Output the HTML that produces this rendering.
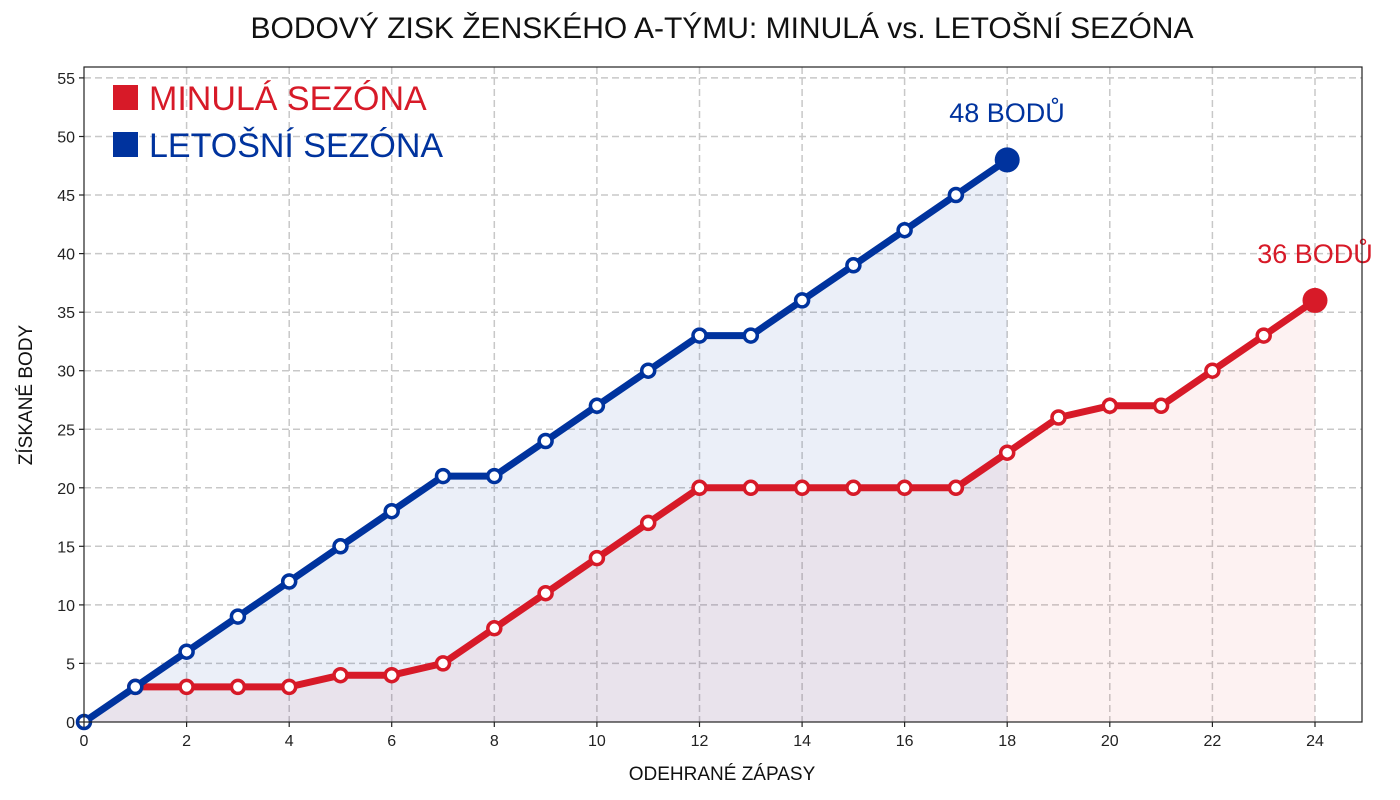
<!DOCTYPE html>
<html><head><meta charset="utf-8"><style>
body{margin:0;background:#fff;}
svg{display:block;font-family:"Liberation Sans",sans-serif;}
</style></head><body>
<svg width="1400" height="800" viewBox="0 0 1400 800" xmlns="http://www.w3.org/2000/svg">
<rect width="1400" height="800" fill="#fff"/>
<text x="722" y="38" text-anchor="middle" font-size="30" fill="#111">BODOVÝ ZISK ŽENSKÉHO A-TÝMU: MINULÁ vs. LETOŠNÍ SEZÓNA</text>
<g stroke="#c8c8c8" stroke-width="1.5" stroke-dasharray="7,4">
<line x1="186.6" y1="67" x2="186.6" y2="722"/><line x1="289.2" y1="67" x2="289.2" y2="722"/><line x1="391.7" y1="67" x2="391.7" y2="722"/><line x1="494.3" y1="67" x2="494.3" y2="722"/><line x1="596.9" y1="67" x2="596.9" y2="722"/><line x1="699.5" y1="67" x2="699.5" y2="722"/><line x1="802.1" y1="67" x2="802.1" y2="722"/><line x1="904.6" y1="67" x2="904.6" y2="722"/><line x1="1007.2" y1="67" x2="1007.2" y2="722"/><line x1="1109.8" y1="67" x2="1109.8" y2="722"/><line x1="1212.4" y1="67" x2="1212.4" y2="722"/><line x1="1315" y1="67" x2="1315" y2="722"/>
<line x1="84" y1="663.4" x2="1362" y2="663.4"/><line x1="84" y1="604.9" x2="1362" y2="604.9"/><line x1="84" y1="546.3" x2="1362" y2="546.3"/><line x1="84" y1="487.8" x2="1362" y2="487.8"/><line x1="84" y1="429.3" x2="1362" y2="429.3"/><line x1="84" y1="370.7" x2="1362" y2="370.7"/><line x1="84" y1="312.2" x2="1362" y2="312.2"/><line x1="84" y1="253.6" x2="1362" y2="253.6"/><line x1="84" y1="195" x2="1362" y2="195"/><line x1="84" y1="136.5" x2="1362" y2="136.5"/><line x1="84" y1="77.9" x2="1362" y2="77.9"/>
</g>
<!-- fills -->
<polygon fill="rgba(215,30,40,0.06)" points="84,722 135.3,686.9 186.6,686.9 237.9,686.9 289.2,686.9 340.5,675.2 391.7,675.2 443,663.4 494.3,628.3 545.6,593.2 596.9,558.1 648.2,522.9 699.5,487.8 750.8,487.8 802.1,487.8 853.4,487.8 904.6,487.8 955.9,487.8 1007.2,452.7 1058.5,417.5 1109.8,405.8 1161.1,405.8 1212.4,370.7 1263.7,335.6 1315,300.4 1315,722"/>
<polygon fill="rgba(0,51,160,0.08)" points="84,722 135.3,686.9 186.6,651.7 237.9,616.6 289.2,581.5 340.5,546.3 391.7,511.2 443,476.1 494.3,476.1 545.6,441 596.9,405.8 648.2,370.7 699.5,335.6 750.8,335.6 802.1,300.4 853.4,265.3 904.6,230.2 955.9,195 1007.2,159.9 1007.2,722"/>
<!-- red line -->
<polyline fill="none" stroke="#d71a28" stroke-width="7" stroke-linejoin="round" points="135.3,686.9 186.6,686.9 237.9,686.9 289.2,686.9 340.5,675.2 391.7,675.2 443,663.4 494.3,628.3 545.6,593.2 596.9,558.1 648.2,522.9 699.5,487.8 750.8,487.8 802.1,487.8 853.4,487.8 904.6,487.8 955.9,487.8 1007.2,452.7 1058.5,417.5 1109.8,405.8 1161.1,405.8 1212.4,370.7 1263.7,335.6 1315,300.4"/>
<g fill="#fff" stroke="#d71a28" stroke-width="3.5">
<circle cx="135.3" cy="686.9" r="6.5"/><circle cx="186.6" cy="686.9" r="6.5"/><circle cx="237.9" cy="686.9" r="6.5"/><circle cx="289.2" cy="686.9" r="6.5"/><circle cx="340.5" cy="675.2" r="6.5"/><circle cx="391.7" cy="675.2" r="6.5"/><circle cx="443" cy="663.4" r="6.5"/><circle cx="494.3" cy="628.3" r="6.5"/><circle cx="545.6" cy="593.2" r="6.5"/><circle cx="596.9" cy="558.1" r="6.5"/><circle cx="648.2" cy="522.9" r="6.5"/><circle cx="699.5" cy="487.8" r="6.5"/><circle cx="750.8" cy="487.8" r="6.5"/><circle cx="802.1" cy="487.8" r="6.5"/><circle cx="853.4" cy="487.8" r="6.5"/><circle cx="904.6" cy="487.8" r="6.5"/><circle cx="955.9" cy="487.8" r="6.5"/><circle cx="1007.2" cy="452.7" r="6.5"/><circle cx="1058.5" cy="417.5" r="6.5"/><circle cx="1109.8" cy="405.8" r="6.5"/><circle cx="1161.1" cy="405.8" r="6.5"/><circle cx="1212.4" cy="370.7" r="6.5"/><circle cx="1263.7" cy="335.6" r="6.5"/>
</g>
<circle cx="1315" cy="300.4" r="12.5" fill="#d71a28"/>
<!-- blue line -->
<polyline fill="none" stroke="#00339e" stroke-width="7" stroke-linejoin="round" points="84,722 135.3,686.9 186.6,651.7 237.9,616.6 289.2,581.5 340.5,546.3 391.7,511.2 443,476.1 494.3,476.1 545.6,441 596.9,405.8 648.2,370.7 699.5,335.6 750.8,335.6 802.1,300.4 853.4,265.3 904.6,230.2 955.9,195 1007.2,159.9"/>
<g fill="#fff" stroke="#00339e" stroke-width="3.5">
<circle cx="84" cy="722" r="6.5"/><circle cx="135.3" cy="686.9" r="6.5"/><circle cx="186.6" cy="651.7" r="6.5"/><circle cx="237.9" cy="616.6" r="6.5"/><circle cx="289.2" cy="581.5" r="6.5"/><circle cx="340.5" cy="546.3" r="6.5"/><circle cx="391.7" cy="511.2" r="6.5"/><circle cx="443" cy="476.1" r="6.5"/><circle cx="494.3" cy="476.1" r="6.5"/><circle cx="545.6" cy="441" r="6.5"/><circle cx="596.9" cy="405.8" r="6.5"/><circle cx="648.2" cy="370.7" r="6.5"/><circle cx="699.5" cy="335.6" r="6.5"/><circle cx="750.8" cy="335.6" r="6.5"/><circle cx="802.1" cy="300.4" r="6.5"/><circle cx="853.4" cy="265.3" r="6.5"/><circle cx="904.6" cy="230.2" r="6.5"/><circle cx="955.9" cy="195" r="6.5"/>
</g>
<circle cx="1007.2" cy="159.9" r="12.5" fill="#00339e"/>
<text x="1007" y="122" text-anchor="middle" font-size="27" fill="#00339e">48 BODŮ</text>
<text x="1315" y="263" text-anchor="middle" font-size="27" fill="#d71a28">36 BODŮ</text>
<!-- frame -->
<rect x="84" y="67" width="1278" height="655" fill="none" stroke="#222" stroke-width="1.2"/>
<g stroke="#222" stroke-width="1.2">
<line x1="84" y1="722" x2="84" y2="727"/><line x1="186.6" y1="722" x2="186.6" y2="727"/><line x1="289.2" y1="722" x2="289.2" y2="727"/><line x1="391.7" y1="722" x2="391.7" y2="727"/><line x1="494.3" y1="722" x2="494.3" y2="727"/><line x1="596.9" y1="722" x2="596.9" y2="727"/><line x1="699.5" y1="722" x2="699.5" y2="727"/><line x1="802.1" y1="722" x2="802.1" y2="727"/><line x1="904.6" y1="722" x2="904.6" y2="727"/><line x1="1007.2" y1="722" x2="1007.2" y2="727"/><line x1="1109.8" y1="722" x2="1109.8" y2="727"/><line x1="1212.4" y1="722" x2="1212.4" y2="727"/><line x1="1315" y1="722" x2="1315" y2="727"/>
<line x1="79" y1="722" x2="84" y2="722"/><line x1="79" y1="663.4" x2="84" y2="663.4"/><line x1="79" y1="604.9" x2="84" y2="604.9"/><line x1="79" y1="546.3" x2="84" y2="546.3"/><line x1="79" y1="487.8" x2="84" y2="487.8"/><line x1="79" y1="429.3" x2="84" y2="429.3"/><line x1="79" y1="370.7" x2="84" y2="370.7"/><line x1="79" y1="312.2" x2="84" y2="312.2"/><line x1="79" y1="253.6" x2="84" y2="253.6"/><line x1="79" y1="195" x2="84" y2="195"/><line x1="79" y1="136.5" x2="84" y2="136.5"/><line x1="79" y1="77.9" x2="84" y2="77.9"/>
</g>
<g font-size="16" fill="#222" text-anchor="middle">
<text x="84" y="746">0</text><text x="186.6" y="746">2</text><text x="289.2" y="746">4</text><text x="391.7" y="746">6</text><text x="494.3" y="746">8</text><text x="596.9" y="746">10</text><text x="699.5" y="746">12</text><text x="802.1" y="746">14</text><text x="904.6" y="746">16</text><text x="1007.2" y="746">18</text><text x="1109.8" y="746">20</text><text x="1212.4" y="746">22</text><text x="1315" y="746">24</text>
</g>
<g font-size="16" fill="#222" text-anchor="end">
<text x="75" y="728">0</text><text x="75" y="669.4">5</text><text x="75" y="610.9">10</text><text x="75" y="552.3">15</text><text x="75" y="493.8">20</text><text x="75" y="435.3">25</text><text x="75" y="376.7">30</text><text x="75" y="318.2">35</text><text x="75" y="259.6">40</text><text x="75" y="201">45</text><text x="75" y="142.5">50</text><text x="75" y="83.9">55</text>
</g>
<text x="722" y="780" text-anchor="middle" font-size="19" fill="#111">ODEHRANÉ ZÁPASY</text>
<text transform="translate(32,395) rotate(-90)" text-anchor="middle" font-size="19" fill="#111">ZÍSKANÉ BODY</text>
<!-- legend -->
<rect x="113" y="85" width="25" height="25" fill="#d71a28"/>
<text x="149" y="110" font-size="34" fill="#d71a28">MINULÁ SEZÓNA</text>
<rect x="113" y="132" width="25" height="25" fill="#00339e"/>
<text x="149" y="157" font-size="34" fill="#00339e">LETOŠNÍ SEZÓNA</text>
</svg>
</body></html>
